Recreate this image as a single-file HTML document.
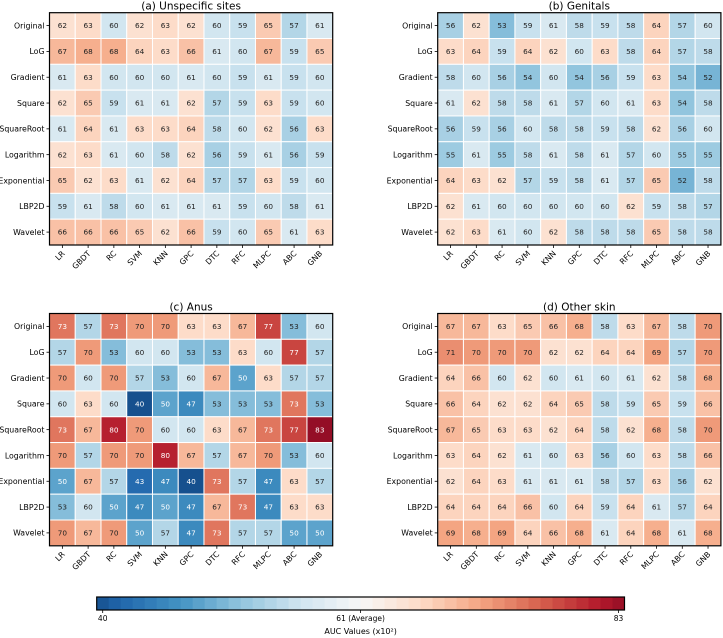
<!DOCTYPE html>
<html><head><meta charset="utf-8">
<style>
html,body{margin:0;padding:0;background:#fff;}
svg{display:block;font-family:"DejaVu Sans","Liberation Sans",sans-serif;}
</style></head>
<body>
<svg id="chart" width="723" height="638" viewBox="0 0 723 638" xmlns="http://www.w3.org/2000/svg"></svg>
<script>
const rowLabels = ["Original","LoG","Gradient","Square","SquareRoot","Logarithm","Exponential","LBP2D","Wavelet"];
const colLabels = ["LR","GBDT","RC","SVM","KNN","GPC","DTC","RFC","MLPC","ABC","GNB"];
const panelTitles = ["(a) Unspecific sites","(b) Genitals","(c) Anus","(d) Other skin"];
const valuesA = [
[62,63,60,62,63,62,60,59,65,57,61],
[67,68,68,64,63,66,61,60,67,59,65],
[61,63,60,60,60,61,60,59,61,59,60],
[62,65,59,61,61,62,57,59,63,59,60],
[61,64,61,63,63,64,58,60,62,56,63],
[62,63,61,60,58,62,56,59,61,56,59],
[65,62,63,61,62,64,57,57,63,59,60],
[59,61,58,60,61,61,61,59,60,58,61],
[66,66,66,65,62,66,59,60,65,61,63]];
const valuesB = [
[56,62,53,59,61,58,59,58,64,57,60],
[63,64,59,64,62,60,63,58,64,57,58],
[58,60,56,54,60,54,56,59,63,54,52],
[61,62,58,58,61,57,60,61,63,54,58],
[56,59,56,60,58,58,59,58,62,56,60],
[55,61,55,58,61,58,61,57,60,55,55],
[64,63,62,57,59,58,61,57,65,52,58],
[62,61,60,60,60,60,60,62,59,58,57],
[62,63,61,60,62,58,58,58,65,58,58]];
const valuesC = [
[73,57,73,70,70,63,63,67,77,53,60],
[57,70,53,60,60,53,53,63,60,77,57],
[70,60,70,57,53,60,67,50,63,57,57],
[60,63,60,40,50,47,53,53,53,73,53],
[73,67,80,70,60,60,63,67,73,77,83],
[70,57,70,70,80,67,57,67,70,53,60],
[50,67,57,43,47,40,73,57,47,63,57],
[53,60,50,47,50,47,67,73,47,63,63],
[70,67,70,50,57,47,73,57,57,50,50]];
const valuesD = [
[67,67,63,65,66,68,58,63,67,58,70],
[71,70,70,70,62,62,64,64,69,57,70],
[64,66,60,62,60,61,60,61,62,58,68],
[66,64,62,62,64,65,58,59,65,59,66],
[67,65,63,63,62,64,58,62,68,58,70],
[63,64,62,61,60,63,56,60,63,58,66],
[62,64,63,61,61,61,58,57,63,56,62],
[64,64,64,66,60,64,59,64,61,57,64],
[69,68,69,64,66,68,61,64,68,61,68]];
const cbarTicks = [40,61,83];
const cbarTickLabels = ["40","61 (Average)","83"];
const vmin = 40, vcenter = 61, vmax = 83;

const stops = ["#053061","#2166ac","#4393c3","#92c5de","#d1e5f0","#f7f7f7","#fddbc7","#f4a582","#d6604d","#b2182b","#67001f"];
function hex(c){return [1,3,5].map(i=>parseInt(c.substr(i,2),16));}
function cmap(t){t=Math.max(0,Math.min(1,t));const p=t*10,i=Math.min(9,Math.floor(p)),f=p-i;
 const a=hex(stops[i]),b=hex(stops[i+1]);return "rgb("+a.map((x,k)=>Math.round(x+(b[k]-x)*f)).join(",")+")";}
function squash(t){return 0.06+0.88*t;}
function norm(v){ let t; if(v<=vcenter) t=0.41*(v-vmin)/(vcenter-vmin); else t=0.59+0.41*(v-vcenter-1)/(vmax-vcenter-1); return squash(t); }

const svg=document.getElementById('chart');
const NS="http://www.w3.org/2000/svg";
function mk(tag,attrs,parent){const e=document.createElementNS(NS,tag);for(const k in attrs)e.setAttribute(k,attrs[k]);(parent||svg).appendChild(e);return e;}

const panels=[
 {data:valuesA,x0:49.5,x1:332.7,y0:12.7,y1:245,name:"panel-unspecific-sites"},
 {data:valuesB,x0:437.7,x1:720.9,y0:12.7,y1:245,name:"panel-genitals"},
 {data:valuesC,x0:49.5,x1:332.7,y0:313.5,y1:545.8,name:"panel-anus"},
 {data:valuesD,x0:437.7,x1:720.9,y0:313.5,y1:545.8,name:"panel-other-skin"}];

panels.forEach((p,pi)=>{
 const g=mk('g',{});
 
 
 const cw=(p.x1-p.x0)/colLabels.length, ch=(p.y1-p.y0)/rowLabels.length;
 const xs=j=>p.x0+j*cw, ys=i=>p.y0+i*ch;
 const t=mk('text',{x:(p.x0+p.x1)/2,y:p.y0-3,'text-anchor':'middle','font-size':'10.5',fill:'#000'},g);
 t.textContent=panelTitles[pi];
 
 
 p.data.forEach((row,i)=>row.forEach((v,j)=>{
  const r=mk('rect',{x:xs(j),y:ys(i),width:cw,height:ch,fill:cmap(norm(v)),stroke:'#fff','stroke-width':1},g);
  
  
  const tx=mk('text',{x:xs(j)+cw/2,y:ys(i)+ch/2+2.6,'text-anchor':'middle','font-size':'7.3',fill:(v<=51||v>=72)?'#fff':'#222'},g);
  tx.textContent=v;
  
  
 }));
 mk('rect',{x:p.x0,y:p.y0,width:p.x1-p.x0,height:p.y1-p.y0,fill:'none',stroke:'#000','stroke-width':1.2},g);
 rowLabels.forEach((l,i)=>{
  const y=ys(i)+ch/2;
  mk('line',{x1:p.x0-3,x2:p.x0,y1:y,y2:y,stroke:'#000','stroke-width':0.8},g);
  const tx=mk('text',{x:p.x0-5,y:y+2.8,'text-anchor':'end','font-size':'7.8',fill:'#000'},g);
  tx.textContent=l;
  
  
 });
 colLabels.forEach((l,j)=>{
  const x=xs(j)+cw/2;
  mk('line',{x1:x,x2:x,y1:p.y1,y2:p.y1+3,stroke:'#000','stroke-width':0.8},g);
  const tx=mk('text',{x:x+3,y:p.y1+9,'text-anchor':'end','font-size':'7.8',fill:'#000',transform:`rotate(-45 ${x+3} ${p.y1+9})`},g);
  tx.textContent=l;
  
  
 });
});

// colorbar
const cb={x0:96.7,x1:624.5,y0:597,y1:610};
const cbg=mk('g',{});


const cbx=v=>cb.x0+(v<=vcenter?(v-vmin)/(vcenter-vmin)*0.5:0.5+(v-vcenter)/(vmax-vcenter)*0.5)*(cb.x1-cb.x0);
const N=44;
for(let k=0;k<N;k++){
 const t0=k/N, w=(cb.x1-cb.x0)/N;
 const tc=squash((k+0.5)/N);
 mk('rect',{x:cb.x0+t0*(cb.x1-cb.x0),y:cb.y0,width:w+0.5,height:cb.y1-cb.y0,fill:cmap(tc)},cbg);
}
mk('rect',{x:cb.x0,y:cb.y0,width:cb.x1-cb.x0,height:cb.y1-cb.y0,fill:'none',stroke:'#000','stroke-width':1.2},cbg);
cbarTicks.forEach((v,k)=>{
 const x=cbx(v)+(k===0?6:k===2?-6:0);
 mk('line',{x1:x,x2:x,y1:cb.y1,y2:cb.y1+3,stroke:'#000','stroke-width':0.8},cbg);
 const tx=mk('text',{x:x,y:cb.y1+11,'text-anchor':'middle','font-size':'7.5',fill:'#000'},cbg);
 tx.textContent=cbarTickLabels[k];
 
 
});
const ct=mk('text',{x:(cb.x0+cb.x1)/2,y:634,'text-anchor':'middle','font-size':'8',fill:'#000'},cbg);
ct.textContent="AUC Values (x10²)";


</script>
</body></html>
